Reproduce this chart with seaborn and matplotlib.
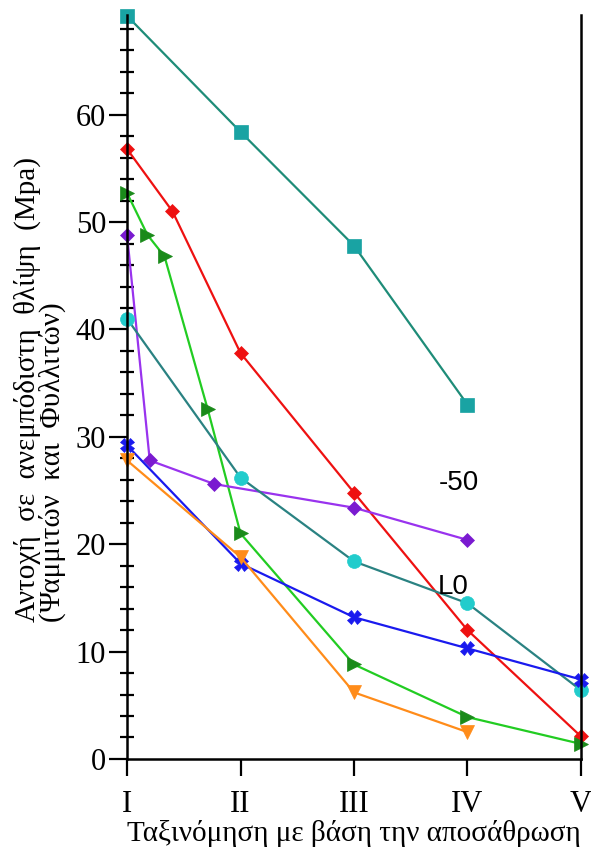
import matplotlib
matplotlib.use('Agg')
import matplotlib.pyplot as plt
from matplotlib.ticker import MultipleLocator
import seaborn as sns

# weathering classes (I..V) -> 1..5, some points sit between classes
class_labels = ['I', 'II', 'III', 'IV', 'V']
class_pos = [1, 2, 3, 4, 5]

sq_x = [1, 2, 3, 4]
sq_y = [69.2, 58.4, 47.8, 33.0]

red_x = [1, 1.40, 2, 3, 4, 5]
red_y = [56.8, 51.0, 37.8, 24.8, 12.0, 2.1]

grn_x = [1, 1.18, 1.33, 1.71, 2, 3, 4, 5]
grn_y = [52.7, 48.8, 46.8, 32.6, 21.0, 8.8, 3.9, 1.4]

pur_x = [1, 1.20, 1.77, 3, 4]
pur_y = [48.8, 27.8, 25.6, 23.4, 20.4]

cir_x = [1, 2, 3, 4, 5]
cir_y = [41.0, 26.2, 18.4, 14.5, 6.4]

blu_x = [1, 2, 3, 4, 5]
blu_y = [29.2, 18.2, 13.2, 10.3, 7.4]

org_x = [1, 2, 3, 4]
org_y = [27.8, 18.8, 6.2, 2.5]

# (x, y, line colour, marker, marker colour, marker size)
series = [
    (sq_x, sq_y, '#1e8c78', 's', '#19a3a3', 10),
    (red_x, red_y, '#ee1111', 'D', '#ee1111', 7),
    (grn_x, grn_y, '#22cc22', '>', '#1a8a1a', 10),
    (pur_x, pur_y, '#9933ee', 'D', '#7a1ad0', 7),
    (cir_x, cir_y, '#2a8282', 'o', '#22cccc', 10),
    (blu_x, blu_y, '#1a1aee', 'X', '#1a1aee', 10),
    (org_x, org_y, '#ff8c1a', 'v', '#ff8c1a', 10),
]

sns.set_style('ticks')
plt.rcParams['font.family'] = ['Liberation Serif', 'DejaVu Serif']
plt.rcParams['text.color'] = 'black'
plt.rcParams['axes.labelcolor'] = 'black'
plt.rcParams['xtick.color'] = 'black'
plt.rcParams['ytick.color'] = 'black'

fig = plt.figure(figsize=(5.91, 8.48), dpi=100)
ax = fig.add_axes([0.215, 0.105, 0.768, 0.8775])

for xs, ys, lc, mk, mc, ms in series:
    sns.lineplot(x=xs, y=ys, ax=ax, color=lc, lw=1.6, sort=False,
                 marker=mk, markersize=ms, markerfacecolor=mc,
                 markeredgecolor=mc, markeredgewidth=0.5, clip_on=False)

ax.set_xlim(1, 5)
ax.set_ylim(0, 69.3)
ax.set_xticks(class_pos)
ax.set_xticklabels(class_labels)
ax.yaxis.set_major_locator(MultipleLocator(10))
ax.yaxis.set_minor_locator(MultipleLocator(2))

ax.tick_params(axis='y', which='major', direction='out', length=13, width=1.6,
               labelsize=22, pad=2)
ax.tick_params(axis='y', which='minor', direction='inout', length=10, width=1.6)
ax.tick_params(axis='x', which='major', direction='out', length=12, width=1.6,
               labelsize=22, pad=10)

ax.spines['top'].set_visible(False)
for s in ['left', 'bottom', 'right']:
    ax.spines[s].set_linewidth(1.8)
    ax.spines[s].set_color('black')

ax.set_xlabel('Ταξινόμηση με βάση την αποσάθρωση', fontsize=21, labelpad=1)
fig.text(0.068, 0.267,
         'Αντοχή  σε  ανεμπόδιστη  θλίψη  (Mpa)\n(Ψαμμιτών  και  Φυλλιτών)',
         rotation=90, ha='center', va='bottom', multialignment='left',
         fontsize=21, linespacing=0.9)

ax.text(3.925, 25.7, '-50', fontsize=20, family='Liberation Sans',
        ha='center', va='center')
ax.text(3.87, 16.0, 'L0', fontsize=20, family='Liberation Sans',
        ha='center', va='center')

fig.savefig('out.png', dpi=100)
